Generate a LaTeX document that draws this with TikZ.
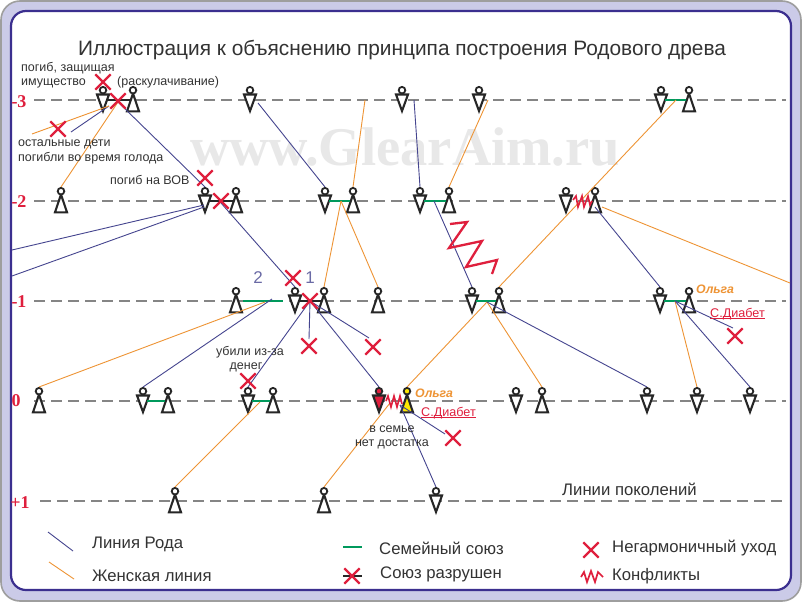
\documentclass[tikz,border=0pt]{standalone}
\usepackage{fontspec}
\setmainfont{Liberation Sans}
\newfontfamily\levelfont{Liberation Serif}
\usetikzlibrary{calc,shapes}
\definecolor{framefill}{HTML}{CBCBE8}
\definecolor{frameline}{HTML}{3B2F8F}
\definecolor{rodcol}{HTML}{45458F}
\definecolor{zhencol}{HTML}{EE9435}
\definecolor{soyuzcol}{HTML}{00995C}
\definecolor{redcol}{HTML}{DF1F3D}
\definecolor{textcol}{HTML}{333333}
\tikzset{
  figline/.style={line width=2.1pt,draw=black!85},
  genline/.style={line width=1.9pt,draw=black!48,dash pattern=on 11pt off 6pt},
  rod/.style={line width=.9pt,draw=rodcol},
  zhen/.style={line width=.9pt,draw=zhencol},
  soyuz/.style={line width=2.4pt,draw=soyuzcol,shorten <=4pt,shorten >=3pt},
  razryv/.style={line width=2.4pt,draw=black!85,shorten <=4pt,shorten >=3pt},
  krest/.style={cross out,draw=redcol,line width=2.3pt,minimum size=13pt,inner sep=0pt},
  zigzag/.style={line width=2.3pt,draw=redcol,line join=miter},
  level/.style={text=redcol,font=\levelfont\bfseries\fontsize{18}{20}\selectfont},
  lab/.style={text=textcol,font=\fontsize{12.5}{14}\selectfont,inner sep=0pt},
  legend/.style={text=textcol,font=\fontsize{16.7}{19}\selectfont,anchor=west,inner sep=0pt},
  olga/.style={text=zhencol,font=\bfseries\itshape\fontsize{12.3}{14}\selectfont,anchor=west,inner sep=0pt},
  diabet/.style={text=redcol,font=\fontsize{12.6}{14}\selectfont,anchor=west,inner sep=0pt}
}
\newcommand{\man}[3][white]{%
  \coordinate (#2) at (#3);
  \coordinate (#2-top) at ($(#2)+(0,-14)$);
  \draw[figline,fill=#1] ($(#2)+(-6,-5.5)$) -- ($(#2)+(6,-5.5)$) -- ($(#2)+(0,11)$) -- cycle;
  \draw[figline,fill=#1,line width=1.8pt] ($(#2)+(0,-9.8)$) circle (3.3);}
\newcommand{\woman}[3][white]{%
  \coordinate (#2) at (#3);
  \coordinate (#2-top) at ($(#2)+(0,-14)$);
  \draw[figline,fill=#1] ($(#2)+(0,-6.5)$) -- ($(#2)+(6,11.3)$) -- ($(#2)+(-6,11.3)$) -- cycle;
  \draw[figline,fill=#1,line width=1.8pt] ($(#2)+(0,-9.8)$) circle (3.3);}
\begin{document}
\begin{tikzpicture}[x=1pt,y=-1pt]
\useasboundingbox (0,0) rectangle (802,602);
\draw[draw=black!38,line width=1.6pt,fill=framefill,rounded corners=19pt] (1,1) rectangle (801,601);
\draw[draw=frameline,line width=2.2pt,fill=white,rounded corners=15pt] (11,11) rectangle (791,590);

\node[text=black!9,font=\levelfont\bfseries\fontsize{54.5}{60}\selectfont,anchor=west,inner sep=0pt] (mark) at (190,147) {www.GlearAim.ru};
\node[text=textcol,font=\fontsize{20.85}{24}\selectfont,inner sep=0pt] (title) at (402,50) {Иллюстрация к объяснению принципа построения Родового древа};

\coordinate (g3a) at (34,100); \coordinate (g3b) at (786,100);
\coordinate (g2a) at (34,201); \coordinate (g2b) at (786,201);
\coordinate (g1a) at (34,301); \coordinate (g1b) at (786,301);
\coordinate (g0a) at (34,401); \coordinate (g0b) at (786,401);
\coordinate (gpa) at (40,501); \coordinate (gpb) at (786,501);
\draw[genline] (g3a) -- (g3b);
\draw[genline] (g2a) -- (g2b);
\draw[genline] (g1a) -- (g1b);
\draw[genline] (g0a) -- (g0b);
\draw[genline] (gpa) -- (gpb);
\node[level] (lv3) at (19,102) {-3};
\node[level] (lv2) at (19,202) {-2};
\node[level] (lv1) at (19,302) {-1};
\node[level] (lv0) at (16,401) {0};
\node[level] (lvp) at (20,503) {+1};

\man{m3a}{103,100} \woman{w3a}{133,100}
\man{m3b}{250,100}
\man{m3c}{402,100}
\man{m3d}{479,100}
\man{m3e}{661,100} \woman{w3e}{689,100}
\woman{w2a}{61,201}
\man{m2b}{205,201} \woman{w2b}{236,201}
\man{m2c}{325,201} \woman{w2c}{353,201}
\man{m2d}{420,201} \woman{w2d}{449,201}
\man{m2e}{566,201} \woman{w2e}{595,201}
\woman{w1a}{236,301} \man{m1a}{295,301} \woman{w1b}{324,301}
\woman{w1c}{378,301}
\man{m1d}{472,301} \woman{w1d}{499,301}
\man{m1e}{660,301} \woman{w1e}{689,301}
\woman{w0a}{39,401}
\man{m0b}{143,401} \woman{w0b}{168,401}
\man{m0c}{248,401} \woman{w0c}{273,401}
\man[redcol]{m0d}{379,401} \woman[yellow!90!orange]{w0d}{407,401}
\man{m0e}{516,401} \woman{w0e}{542,401}
\man{m0f}{647,401}
\man{m0g}{697,401}
\man{m0h}{750,401}
\woman{wpa}{175,501}
\woman{wpb}{324,501}
\man{mpc}{436,501}

\draw[razryv] (m3a) -- (w3a);
\draw[razryv] (m2b) -- (w2b);
\draw[razryv] (m1a) -- (w1b);
\draw[soyuz] (m3e) -- (w3e);
\draw[soyuz] (m2c) -- (w2c);
\draw[soyuz] (m2d) -- (w2d);
\draw[soyuz,shorten <=7pt,shorten >=12pt] (w1a) -- (m1a);
\draw[soyuz] (m1d) -- (w1d);
\draw[soyuz] (m1e) -- (w1e);
\draw[soyuz] (m0b) -- (w0b);
\draw[soyuz] (m0c) -- (w0c);

\coordinate (u3a) at (118,102);
\coordinate (j3a) at (109,106);
\coordinate (j3b) at (258,103);
\coordinate (j3c) at (414,100);
\coordinate (j3d) at (488,100);
\coordinate (j3e) at (676,100);
\coordinate (j3x) at (365,100);
\coordinate (e3a) at (71,132);
\coordinate (e3b) at (32,134);
\coordinate (f2a) at (12,250);
\coordinate (f2b) at (12,276);
\coordinate (j2a) at (204,205);
\coordinate (j2b) at (204,207);
\coordinate (u2b) at (221,203);
\coordinate (u2c) at (341,201);
\coordinate (u2d) at (434,201);
\coordinate (u2e) at (595,207);
\coordinate (u2f) at (602,207);
\coordinate (f1a) at (790,283);
\coordinate (u1a) at (272,299);
\coordinate (u1b) at (265,302);
\coordinate (u1c) at (310,301);
\coordinate (u1d) at (487,302);
\coordinate (u1e) at (675,301);
\coordinate (e1a) at (309,339);
\coordinate (e1b) at (369,338);
\coordinate (e1c) at (733,328);
\coordinate (u0c) at (260,402);
\coordinate (u0d) at (400,405);
\coordinate (j0d) at (390,403);
\coordinate (e0d) at (445,434);

\draw[rod] (u3a) -- (m2b-top);
\draw[rod] (e3a) -- (j3a);
\draw[zhen] (e3b) -- (j3a);
\draw[zhen] (w2a-top) -- (u3a);
\draw[rod] (f2a) -- (j2a);
\draw[rod] (f2b) -- (j2b);
\draw[rod] (u2b) -- (m1a-top);
\draw[rod] (j3b) -- (m2c-top);
\draw[zhen] (j3x) -- (w2c-top);
\draw[rod] (j3c) -- (m2d-top);
\draw[zhen] (j3d) -- (w2d-top);
\draw[zhen] (u2c) -- (w1b-top);
\draw[zhen] (u2c) -- (w1c-top);
\draw[rod] (u2d) -- (m1d-top);
\draw[zhen] (j3e) -- (w1d-top);
\draw[rod] (u2e) -- (m1e-top);
\draw[zhen] (u2f) -- (f1a);
\draw[rod] (u1a) -- (m0b-top);
\draw[zhen] (u1b) -- (w0a-top);
\draw[rod] (u1c) -- (m0c-top);
\draw[rod] (u1c) -- (e1a);
\draw[rod] (u1c) -- (e1b);
\draw[rod] (u1c) -- (m0d-top);
\draw[zhen] (u1d) -- (w0d-top);
\draw[zhen] (u1d) -- (w0e-top);
\draw[rod] (u1d) -- (m0f-top);
\draw[zhen] (u1e) -- (m0g-top);
\draw[rod] (u1e) -- (m0h-top);
\draw[rod] (u1e) -- (e1c);
\draw[zhen] (u0c) -- (wpa-top);
\draw[zhen] (j0d) -- (wpb-top);
\draw[rod] (u0d) -- (mpc-top);
\draw[rod] (u0d) -- (e0d);

\node[krest] (x1) at (103,82) {};
\node[krest] (x2) at (58,129) {};
\node[krest] (x3) at (118,101) {};
\node[krest] (x4) at (205,178) {};
\node[krest] (x5) at (221,201) {};
\node[krest] (x6) at (293,278) {};
\node[krest] (x7) at (310,301) {};
\node[krest] (x8) at (309,346) {};
\node[krest] (x9) at (373,347) {};
\node[krest] (x10) at (248,381) {};
\node[krest] (x11) at (453,438) {};
\node[krest] (x12) at (735,336) {};

\draw[zigzag] (450,224) -- (467,222) -- (449,248) -- (482,241) -- (466,267) -- (497,260) -- (492,274);
\draw[zigzag,line width=1.6pt] (573,200) -- (576,196) -- (578,207) -- (582,196) -- (584,207) -- (588,196) -- (590,205) -- (592,201);
\draw[zigzag,line width=1.6pt] (386,401) -- (388,396) -- (391,407) -- (394,396) -- (397,407) -- (400,396) -- (402,404);

\node[lab,anchor=west] (t1) at (21,68) {погиб, защищая};
\node[lab,anchor=west] (t2) at (21,83) {имущество};
\node[lab,anchor=west] (t3) at (117,82) {(раскулачивание)};
\node[lab,anchor=west] (t4) at (18,144) {остальные дети};
\node[lab,anchor=west] (t5) at (18,158) {погибли во время голода};
\node[lab,anchor=west] (t6) at (110,180) {погиб на ВОВ};
\node[lab] (t7) at (250,352) {убили из-за};
\node[lab] (t8) at (246,367) {денег};
\node[lab] (t9) at (392,429) {в семье};
\node[lab] (t10) at (392,444) {нет достатка};
\node[text=rodcol!80!white,font=\fontsize{17}{20}\selectfont] (n2) at (258,278) {2};
\node[text=rodcol!80!white,font=\fontsize{17}{20}\selectfont] (n1) at (310,278) {1};
\node[olga] (ol1) at (415,393) {Ольга};
\node[diabet] (di1) at (421,417) {\underline{\smash{С.Диабет}}};
\node[olga] (ol2) at (696,289) {Ольга};
\node[diabet] (di2) at (710,318) {\underline{\smash{С.Диабет}}};
\node[legend] (lgen) at (562,489) {Линии поколений};

\coordinate (la1) at (48,532); \coordinate (la2) at (73,551);
\coordinate (lb1) at (49,562); \coordinate (lb2) at (74,579);
\coordinate (lc1) at (343,547); \coordinate (lc2) at (362,547);
\coordinate (ld1) at (343,576); \coordinate (ld2) at (362,576);
\draw[rod] (la1) -- (la2);
\draw[zhen] (lb1) -- (lb2);
\draw[soyuz,shorten <=0pt,shorten >=0pt] (lc1) -- (lc2);
\draw[razryv,shorten <=0pt,shorten >=0pt] (ld1) -- (ld2);
\node[krest] (x13) at (352,576) {};
\node[krest] (x14) at (591,550) {};
\draw[zigzag,line width=1.7pt] (581,577) -- (584,572) -- (587,582) -- (591,571) -- (595,582) -- (598,572) -- (603,577);
\node[legend] (l1) at (92,544) {Линия Рода};
\node[legend] (l2) at (92,576) {Женская линия};
\node[legend] (l3) at (379,548) {Семейный союз};
\node[legend] (l4) at (380,574) {Союз разрушен};
\node[legend] (l5) at (612,548) {Негармоничный уход};
\node[legend] (l6) at (612,576) {Конфликты};
\end{tikzpicture}
\end{document}
